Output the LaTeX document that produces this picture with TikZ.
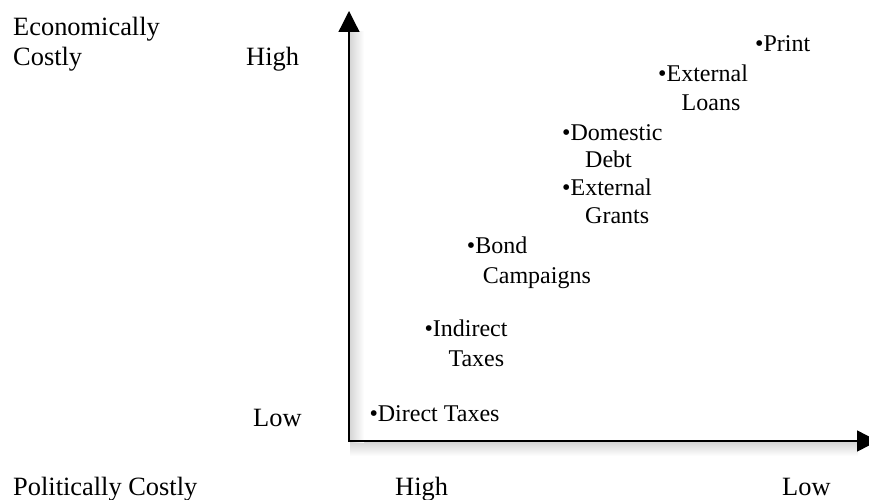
\documentclass[tikz,border=0pt]{standalone}
\usepackage{fontspec}
\setmainfont{Liberation Serif}
\usetikzlibrary{arrows.meta}
\tikzset{
  axlabel/.style={anchor=base west,inner sep=0pt,font=\fontsize{26.4}{30}\selectfont},
  item/.style={anchor=base west,inner sep=0pt,font=\fontsize{24}{28}\selectfont},
  axis/.style={line width=1.3pt,-{Triangle[length=21pt,width=21pt]}},
}
\begin{document}
\begin{tikzpicture}[x=1pt,y=-1pt]
\useasboundingbox (0,0) rectangle (869,500);
% soft shadows of the axes
\shade[top color=black!16,bottom color=white] (350,442) rectangle (858,456);
\shade[left color=black!16,right color=white] (350,32) rectangle (364,442);
\coordinate (O) at (349,441);
\coordinate (ytip) at (349,11);
\coordinate (xtip) at (878,441);
\draw[axis] (O) -- (ytip);
\draw[axis] ([xshift=-0.65pt]O) -- (xtip);
% axis labels
\node[axlabel] (econ) at (13,36) {Economically};
\node[axlabel] (costly) at (13,65.7) {Costly};
\node[axlabel] (yhigh) at (246,65.7) {High};
\node[axlabel] (ylow) at (253,426.7) {Low};
\node[axlabel] (pol) at (13,495) {Politically Costly};
\node[axlabel] (xhigh) at (395,495) {High};
\node[axlabel] (xlow) at (782,495) {Low};
% items
\node[item] (print) at (755,51.7) {\textbullet Print};
\node[item] (extl) at (658,81.7) {\textbullet External};
\node[item] (extl2) at ([xshift=23.5pt,yshift=-29pt]extl.base west) {Loans};
\node[item] (dom) at (562,140) {\textbullet Domestic};
\node[item] (dom2) at ([xshift=23pt,yshift=-27.5pt]dom.base west) {Debt};
\node[item] (extg) at (562,195) {\textbullet External};
\node[item] (extg2) at ([xshift=23pt,yshift=-28.3pt]extg.base west) {Grants};
\node[item] (bond) at (466.7,253.3) {\textbullet Bond};
\node[item] (bond2) at ([xshift=16pt,yshift=-30pt]bond.base west) {Campaigns};
\node[item] (ind) at (424.3,336.7) {\textbullet Indirect};
\node[item] (ind2) at ([xshift=24pt,yshift=-30pt]ind.base west) {Taxes};
\node[item] (dir) at (369.3,421.7) {\textbullet Direct Taxes};
\end{tikzpicture}
\end{document}
